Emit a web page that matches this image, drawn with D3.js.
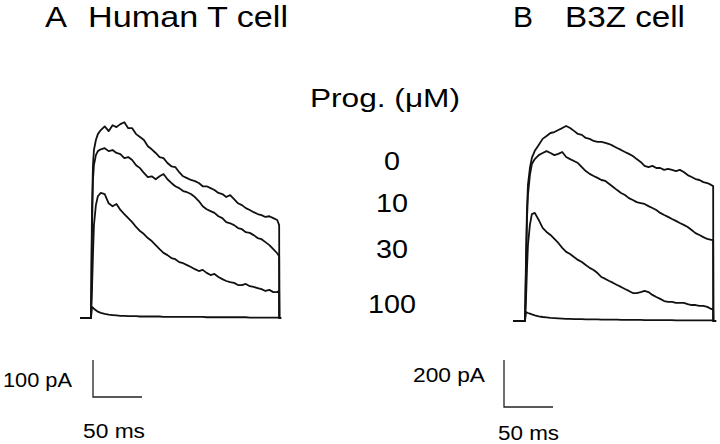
<!DOCTYPE html>
<html><head><meta charset="utf-8">
<script src="https://cdn.jsdelivr.net/npm/d3@7"></script>
<style>html,body{margin:0;padding:0;background:#fff;}svg{display:block;}</style>
</head><body>
<script>
// ---- data (time in ms from pulse onset, current in pA) ----
const timeMs = [0,1,2,3,5,7,10,14,18,22,26,30,34,38,42,46,50,54,58,62,66,70,74,78,82,86,90,94,98,102,106,110,114,118,122,126,130,134,138,142,146,150,154,158,162,166,170,174,178,182,186,190,192];
const progConc = ["0","10","30","100"];

// Panel A: Human T cell
const humanT_0   = [0,292,413,454,481,497,508,518,505,521,516,524,529,513,513,497,489,481,464,456,446,435,432,419,410,408,394,383,378,373,370,365,356,356,351,346,338,335,327,332,321,310,305,297,292,286,281,278,273,275,270,265,251];
const humanT_10  = [0,238,373,413,440,451,456,459,451,454,446,443,432,435,427,413,405,392,381,383,375,383,389,375,365,356,351,343,340,335,327,316,302,294,289,284,275,270,259,256,251,243,240,232,230,224,216,213,205,197,186,175,167];
const humanT_30  = [0,76,170,251,305,329,338,335,310,302,308,292,281,270,259,246,235,227,216,208,197,186,176,170,162,159,151,148,143,138,132,127,130,122,116,119,111,105,100,97,95,89,89,92,86,84,81,78,73,76,70,70,73];
const humanT_100 = [0,30,28,25,21,17,14,11,9,8,7,6,6,5,5,5,4,4,4,4,4,4,3,3,3,3,3,3,3,3,3,3,3,2,2,2,2,2,2,2,2,2,2,2,1,1,1,1,1,1,1,1,1];

// Panel B: B3Z cell
const b3z_0   = [0,260,472,579,651,694,724,749,775,787,800,804,813,821,830,821,809,796,792,779,775,766,762,762,758,753,745,736,728,719,711,702,689,677,660,655,660,651,651,643,647,643,638,643,634,621,613,604,600,591,587,579,574];
const b3z_10  = [0,217,430,536,621,668,689,706,715,723,715,706,711,719,698,689,681,672,655,638,626,617,609,600,596,583,570,557,545,536,523,515,506,502,498,489,481,472,460,451,443,434,426,417,409,400,387,374,366,357,349,345,345];
const b3z_30  = [0,89,217,323,409,455,460,430,396,379,366,349,332,311,294,285,272,260,251,238,226,217,204,187,179,170,162,153,145,136,128,119,119,123,128,123,111,102,94,85,81,81,77,77,77,72,68,68,64,64,60,51,51];
const b3z_100 = [0,38,36,34,31,28,24,20,17,15,13,12,11,10,9,9,8,8,8,7,7,7,7,6,6,6,6,6,5,5,5,5,5,5,4,4,4,4,4,4,4,4,3,3,3,3,3,3,3,3,3,3,3];

const pulseEnd = 192;       // ms
const scaleBarA = {ms: 50, pA: 100};
const scaleBarB = {ms: 50, pA: 200};

// ---- drawing ----
const svg = d3.select("body").append("svg").attr("width", 720).attr("height", 444);
svg.append("rect").attr("width", 720).attr("height", 444).attr("fill", "#fff");
const FONT = "'Liberation Sans', Arial, Helvetica, sans-serif";

function txt(s, x, y, size, len) {
  svg.append("text").attr("x", x).attr("y", y).attr("font-family", FONT)
    .attr("font-size", size).attr("fill", "#000")
    .attr("textLength", len).attr("lengthAdjust", "spacingAndGlyphs").text(s);
}

function panel(cfg) {
  const x = d3.scaleLinear().domain([0, 50]).range(cfg.xr);
  const y = d3.scaleLinear().domain([0, cfg.yUnit]).range(cfg.yr);
  const line = d3.line().x(d => x(d[0])).y(d => y(d[1]));
  cfg.traces.forEach((vals, i) => {
    const pts = [[cfg.preT, 0]];
    timeMs.forEach((t, k) => pts.push([t, vals[k]]));
    pts.push([pulseEnd + 0.2, 0]);
    pts.push([cfg.postT, 0]);
    svg.append("path").attr("d", line(pts)).attr("fill", "none")
      .attr("stroke", "#111").attr("stroke-width", 1.8).attr("stroke-linejoin", "round");
  });
  // scale bar
  const o = cfg.barOrigin;
  const hx = o[0] + (x(cfg.bar.ms) - x(0));
  const vy = o[1] - (y(0) - y(cfg.bar.pA));
  svg.append("path").attr("d", `M${o[0]},${vy}V${o[1]}H${hx}`)
    .attr("fill", "none").attr("stroke", "#222").attr("stroke-width", 1.3);
}

panel({xr: [91, 140], yr: [318, 281], yUnit: 100, preT: -11, postT: 194,
  traces: [humanT_0, humanT_10, humanT_30, humanT_100],
  bar: scaleBarA, barOrigin: [93, 397]});
panel({xr: [525, 574], yr: [321, 274], yUnit: 200, preT: -12, postT: 195,
  traces: [b3z_0, b3z_10, b3z_30, b3z_100],
  bar: scaleBarB, barOrigin: [504, 407]});

// titles
txt("A", 45, 27, 29, 22);
txt("Human T cell", 88, 27, 29, 200);
txt("B", 513, 27, 29, 20);
txt("B3Z cell", 565, 27, 29, 120);

// concentration labels
txt("Prog. (\u03bcM)", 310, 107, 26, 150);
const concY = [170, 212, 258, 313];
progConc.forEach((c, i) => {
  svg.append("text").attr("x", 392).attr("y", concY[i]).attr("text-anchor", "middle")
    .attr("font-family", FONT).attr("font-size", 25).attr("fill", "#000")
    .attr("textLength", c.length * 16).attr("lengthAdjust", "spacingAndGlyphs").text(c);
});

// scale bar labels
txt(scaleBarA.pA + " pA", 3, 387, 20, 69);
txt(scaleBarA.ms + " ms", 83, 438, 20, 62);
txt(scaleBarB.pA + " pA", 413, 382, 20, 72);
txt(scaleBarB.ms + " ms", 498, 440, 20, 61);
</script>
</body></html>
